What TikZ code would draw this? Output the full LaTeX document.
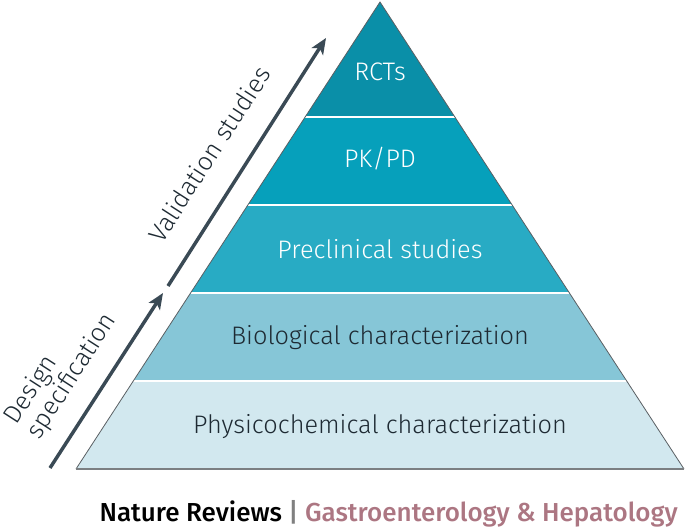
\documentclass[tikz,border=0pt]{standalone}
\usepackage{fontspec}
\setmainfont{Fira Sans Light}
\newfontfamily\footfont{Fira Sans Medium}
\usetikzlibrary{calc,arrows.meta}
\definecolor{cRCT}{HTML}{0A8FA8}
\definecolor{cPK}{HTML}{06A0BB}
\definecolor{cPre}{HTML}{28ABC4}
\definecolor{cBio}{HTML}{86C6D7}
\definecolor{cPhy}{HTML}{D2E8EF}
\definecolor{cDark}{HTML}{1E2A33}
\definecolor{cArrow}{HTML}{3A4A55}
\definecolor{cMauve}{HTML}{AC7682}
\definecolor{cEdge}{HTML}{5A5F63}
\tikzset{
  lightlbl/.style={text=white, font=\fontsize{19}{22}\selectfont, inner sep=0pt},
  darklbl/.style={text=cDark, font=\fontsize{19}{22}\selectfont, inner sep=0pt},
  sidelbl/.style={text=cDark, font=\fontsize{19}{20}\selectfont, inner sep=0pt, rotate=57.2},
  bigarrow/.style={draw=cArrow, line width=2.6pt, -{Stealth[length=12pt,width=10pt,inset=3pt]}},
}
\begin{document}
\begin{tikzpicture}[x=0.75pt,y=-0.75pt]
\useasboundingbox (0,0) rectangle (685,528);
\coordinate (A) at (380,2);
\coordinate (BL) at (76,469);
\coordinate (BR) at (684,469);
\coordinate (L1) at ($(A)!0.24625!(BL)$);
\coordinate (R1) at ($(A)!0.24625!(BR)$);
\coordinate (L2) at ($(A)!0.43469!(BL)$);
\coordinate (R2) at ($(A)!0.43469!(BR)$);
\coordinate (L3) at ($(A)!0.62313!(BL)$);
\coordinate (R3) at ($(A)!0.62313!(BR)$);
\coordinate (L4) at ($(A)!0.81156!(BL)$);
\coordinate (R4) at ($(A)!0.81156!(BR)$);
% bands
\fill[cRCT] (A) -- (R1) -- (L1) -- cycle;
\fill[cPK] (L1) -- (R1) -- (R2) -- (L2) -- cycle;
\fill[cPre] (L2) -- (R2) -- (R3) -- (L3) -- cycle;
\fill[cBio] (L3) -- (R3) -- (R4) -- (L4) -- cycle;
\fill[cPhy] (L4) -- (R4) -- (BR) -- (BL) -- cycle;
\draw[white, line width=1.2pt] (L1) -- (R1) (L2) -- (R2) (L3) -- (R3) (L4) -- (R4);
\draw[cEdge, line width=0.6pt] (BL) -- (A) -- (BR);
\draw[cEdge!80, line width=1.6pt] (BL) -- (BR);
% labels
\node[lightlbl] (rct) at (380,72) {RCTs};
\node[lightlbl] (pk) at (380,159) {PK/PD};
\node[lightlbl] (pre) at (380,249) {Preclinical studies};
\node[darklbl] (bio) at (380,338) {Biological characterization};
\node[darklbl] (phy) at (380,427) {Physicochemical characterization};
% arrows
\coordinate (d0) at (50,468);
\coordinate (d1) at (163,293);
\coordinate (v0) at (168,286);
\coordinate (v1) at (326,38);
\draw[bigarrow] (d0) -- (d1);
\draw[bigarrow] (v0) -- (v1);
\node[sidelbl] (val) at (209,154) {Validation studies};
\node[sidelbl, align=left] (des) at (61,369) {Design\\specification};
% footer
\node[anchor=base east, inner sep=0pt, font=\footfont\fontsize{19.5}{21}\selectfont] (foot) at (678,521)
  {\textcolor{black}{Nature Reviews} \textcolor{gray}{|} \textcolor{cMauve}{Gastroenterology \& Hepatology}};
\end{tikzpicture}
\end{document}
